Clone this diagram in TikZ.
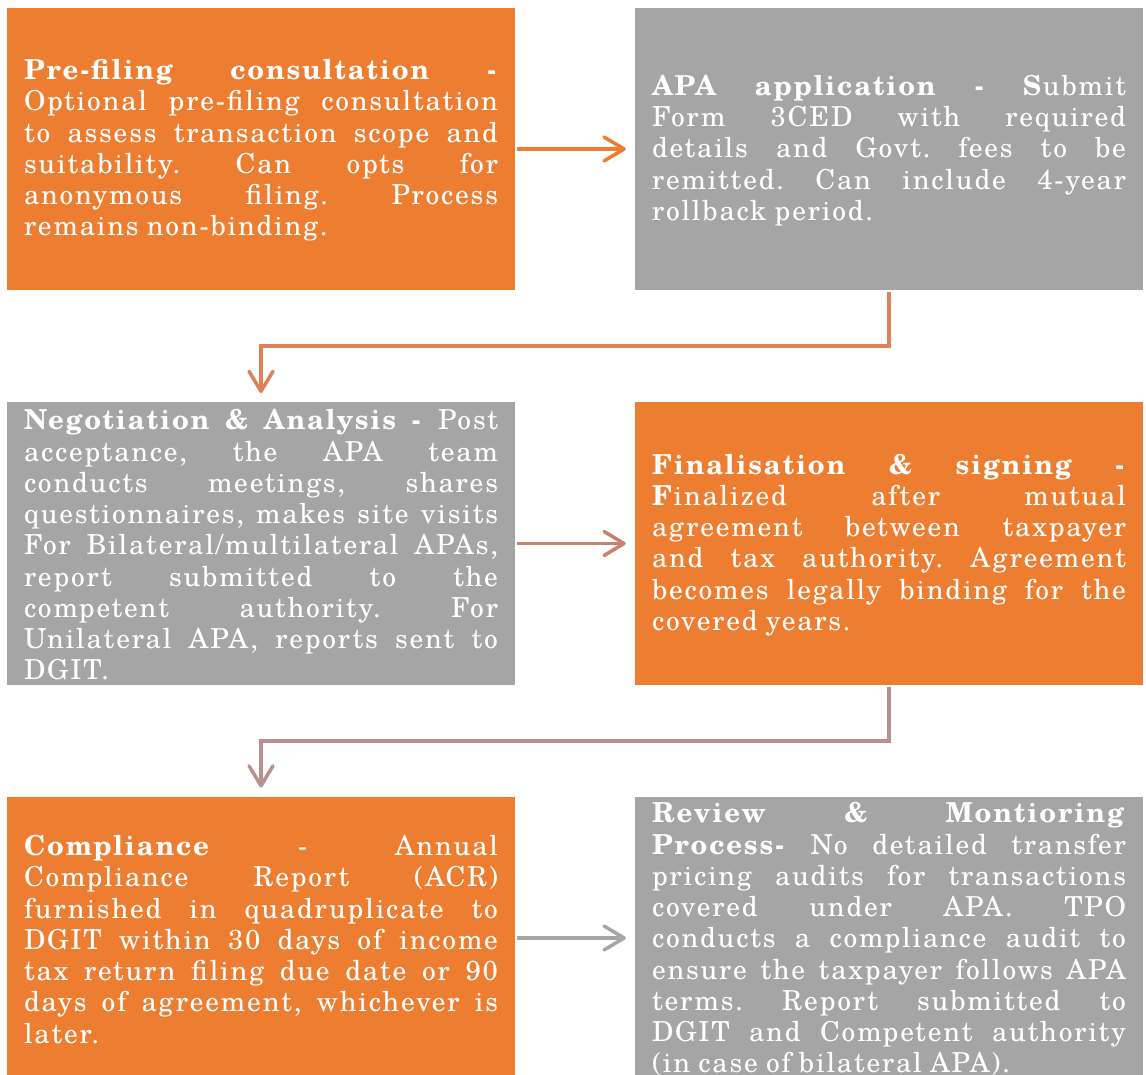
\documentclass[tikz,border=0pt]{standalone}
\usepackage{fontspec}
\setmainfont{texgyreschola}[Extension=.otf, UprightFont=*-regular, BoldFont=*-bold, ItalicFont=*-italic, BoldItalicFont=*-bolditalic, LetterSpace=6.5]
\usetikzlibrary{arrows.meta}
\definecolor{apaorange}{HTML}{ED7D31}
\definecolor{apagray}{HTML}{A5A5A5}
\definecolor{arrB}{HTML}{DE8058}
\definecolor{arrC}{HTML}{C9806E}
\definecolor{arrD}{HTML}{B8918C}
\hbadness=10000
\hfuzz=20pt
\newcommand\topfix{\par\vskip-8pt}
\newcommand\jl[1]{\par\noindent\hbox to\hsize{\spaceskip=.2em plus 1fil\relax #1}\par}
\newcommand\jlast[1]{\par\noindent\hbox to\hsize{\spaceskip=.3em\relax #1\hfil}\par}
\begin{document}
\begin{tikzpicture}[x=1pt,y=-1pt,
  stepbox/.style={minimum width=508pt, minimum height=282.5pt, text width=474pt,
    inner xsep=17pt, inner ysep=0pt, text=white,
    font=\fontsize{27.5}{31.25}\selectfont\frenchspacing, anchor=center},
  orangebox/.style={stepbox, fill=apaorange},
  graybox/.style={stepbox, fill=apagray},
  conn/.style={line width=3.5pt, shorten <=2pt, shorten >=9pt,
    -{Straight Barb[length=20pt,width=24pt,line width=3.5pt,round]}}
]
\useasboundingbox (0,0) rectangle (1146,1075);

\node[orangebox] (b1) at (261,149) {\topfix
\jl{\textbf{Pre-filing consultation -}}
\jl{Optional pre-filing consultation}
\jl{to assess transaction scope and}
\jl{suitability. Can opts for}
\jl{anonymous filing. Process}
\jlast{remains non-binding.}};

\node[graybox] (b2) at (889,149) {\topfix
\jl{\textbf{APA application - S}ubmit}
\jl{Form 3CED with required}
\jl{details and Govt. fees to be}
\jl{remitted. Can include 4-year}
\jlast{rollback period.}};

\node[graybox] (b3) at (261,543.5) {\topfix
\jl{\textbf{Negotiation \& Analysis -} Post}
\jl{acceptance, the APA team}
\jl{conducts meetings, shares}
\jl{questionnaires, makes site visits}
\jl{For Bilateral/multilateral APAs,}
\jl{report submitted to the}
\jl{competent authority. For}
\jl{Unilateral APA, reports sent to}
\jlast{DGIT.}};

\node[orangebox] (b4) at (889,543.5) {\topfix
\jl{\textbf{Finalisation \& signing -}}
\jl{\textbf{F}inalized after mutual}
\jl{agreement between taxpayer}
\jl{and tax authority. Agreement}
\jl{becomes legally binding for the}
\jlast{covered years.}};

\node[orangebox] (b5) at (261,938) {\topfix
\jl{\textbf{Compliance} - Annual}
\jl{Compliance Report (ACR)}
\jl{furnished in quadruplicate to}
\jl{DGIT within 30 days of income}
\jl{tax return filing due date or 90}
\jl{days of agreement, whichever is}
\jlast{later.}};

\node[graybox] (b6) at (889,938) {\topfix
\jl{\textbf{Review \& Montioring}}
\jl{\textbf{Process-} No detailed transfer}
\jl{pricing audits for transactions}
\jl{covered under APA. TPO}
\jl{conducts a compliance audit to}
\jl{ensure the taxpayer follows APA}
\jl{terms. Report submitted to}
\jl{DGIT and Competent authority}
\jlast{(in case of bilateral APA).}};

\coordinate (m1) at (575,346.25);
\coordinate (m2) at (575,740.75);

\draw[conn, apaorange] (b1) -- (b2);
\draw[conn, arrB] (b2.south) |- (m1) -| (b3.north);
\draw[conn, arrC] (b3) -- (b4);
\draw[conn, arrD] (b4.south) |- (m2) -| (b5.north);
\draw[conn, apagray] (b5) -- (b6);
\end{tikzpicture}
\end{document}
